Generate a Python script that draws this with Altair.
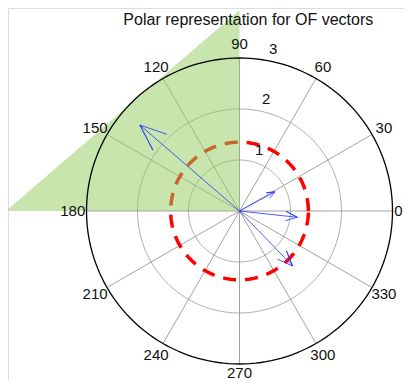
import altair as alt
import numpy as np
import pandas as pd

# ---- data ----
title_text = "Polar representation for OF vectors"
angle_ticks = [0, 30, 60, 90, 120, 150, 180, 210, 240, 270, 300, 330]
radial_ticks = [1, 2, 3]
vec_r = [2.58, 0.79, 1.14, 1.50]
vec_theta = [139.2, 28.5, -6.2, -46.0]
ref_radius = 1.35
patch_x = [-4.58, 0.0]
patch_y = [0.0, 3.94]

# ---- layout (pixels) ----
W, H = 396, 372
CX, CY = 231.5, 203.0     # centre in plot pixels
PPU = 51.0                # pixels per unit
xmin = -CX / PPU
xmax = xmin + W / PPU
ymax = CY / PPU
ymin = ymax - H / PPU
xs = alt.Scale(domain=[xmin, xmax], nice=False, zero=False)
ys = alt.Scale(domain=[ymin, ymax], nice=False, zero=False)
X = lambda f: alt.X(f, type="quantitative", scale=xs, axis=None)
Y = lambda f: alt.Y(f, type="quantitative", scale=ys, axis=None)
rmax = max(radial_ticks)

# circles
t = np.deg2rad(np.arange(0, 361, 2))
def circle(r, name):
    return pd.DataFrame({"x": r * np.cos(t), "y": r * np.sin(t), "i": np.arange(len(t)), "c": name})

inner = pd.concat([circle(r, str(r)) for r in radial_ticks[:-1]])
outer = circle(rmax, "outer")
red = circle(ref_radius, "ref")

# spokes
sp = np.deg2rad(np.array(angle_ticks[:6]))
spokes = pd.DataFrame({"x": -rmax * np.cos(sp), "y": -rmax * np.sin(sp),
                       "x2": rmax * np.cos(sp), "y2": rmax * np.sin(sp)})

# arrows (compass style)
rows = []
for k, (r, th) in enumerate(zip(vec_r, vec_theta)):
    z = r * np.exp(1j * np.deg2rad(th))
    pts = [0, z, (0.8 + 0.08j) * z, z, (0.8 - 0.08j) * z]
    for i, p in enumerate(pts):
        rows.append({"x": p.real, "y": p.imag, "i": i, "a": k})
arrows = pd.DataFrame(rows)

# labels (kept inside the drawing area)
ang = np.deg2rad(np.array(angle_ticks))
lx = np.minimum(1.09 * rmax * np.cos(ang), xmax - 5.5 / PPU)
ly = np.maximum(1.09 * rmax * np.sin(ang), ymin + 7.5 / PPU)
alab = pd.DataFrame({"x": lx, "y": ly, "t": [str(a) for a in angle_ticks]})
rlab = pd.DataFrame({"x": [r * np.cos(np.deg2rad(82)) for r in radial_ticks],
                     "y": [r * np.sin(np.deg2rad(82)) for r in radial_ticks],
                     "t": [str(r) for r in radial_ticks]})

patch = pd.DataFrame({"x": patch_x, "y": patch_y, "y2": [0.0, 0.0]})

inner_l = alt.Chart(inner).mark_line(color="#9a9a9a", strokeWidth=0.8).encode(
    x=X("x"), y=Y("y"), detail="c:N", order="i:Q")
spoke_l = alt.Chart(spokes).mark_rule(color="#8c8c8c", strokeWidth=0.8).encode(
    x=X("x"), y=Y("y"), x2="x2", y2="y2")
red_l = alt.Chart(red).mark_line(color="#ff0000", strokeWidth=3.5, strokeDash=[13, 9]).encode(
    x=X("x"), y=Y("y"), order="i:Q")
patch_l = alt.Chart(patch).mark_area(color="#8fcc5c", opacity=0.5).encode(
    x=X("x"), y=Y("y"), y2="y2")
outer_l = alt.Chart(outer).mark_line(color="#000000", strokeWidth=1.3).encode(
    x=X("x"), y=Y("y"), order="i:Q")
arrow_l = alt.Chart(arrows).mark_line(color="#2233ff", strokeWidth=0.8).encode(
    x=X("x"), y=Y("y"), detail="a:N", order="i:Q")
alab_l = alt.Chart(alab).mark_text(font="Liberation Sans", fontSize=15, color="#111",
                                   align="center", baseline="middle").encode(
    x=X("x"), y=Y("y"), text="t:N")
rlab_l = alt.Chart(rlab).mark_text(font="Liberation Sans", fontSize=15, color="#111",
                                   align="center", baseline="middle", dx=12.5, dy=-10.5).encode(
    x=X("x"), y=Y("y"), text="t:N")
title_l = alt.Chart(pd.DataFrame({"t": [title_text]})).mark_text(
    font="Liberation Sans", fontSize=16, color="#111", align="center", baseline="alphabetic").encode(
    x=alt.value(240.3), y=alt.value(17), text="t:N")

chart = alt.layer(inner_l, spoke_l, red_l, patch_l, outer_l, arrow_l, alab_l, rlab_l, title_l).properties(
    width=W, height=H, padding=0, autosize=alt.AutoSizeParams(type="none")
).configure_view(stroke=None).configure(background="white")

chart.save("out.html", embed_options={"renderer": "svg", "actions": False})
